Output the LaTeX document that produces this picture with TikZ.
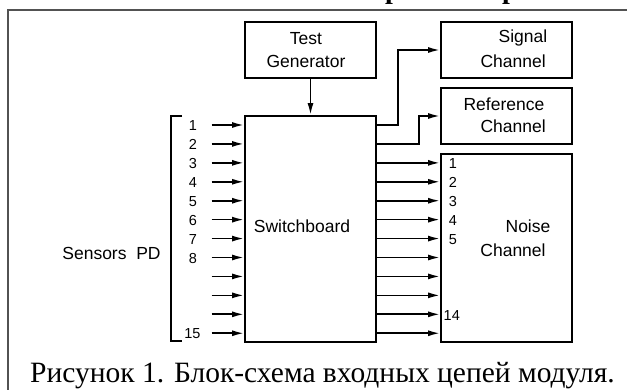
\documentclass[tikz,border=0pt]{standalone}
\usepackage{fontspec}
\setmainfont{Liberation Serif}
\newfontfamily\arialf{Liberation Sans}
\usetikzlibrary{arrows.meta,calc}
\begin{document}
\begin{tikzpicture}[x=1pt,y=-1pt,
 box/.style={draw,line width=1.9pt,minimum width=131pt,inner sep=0},
 lbl/.style={font=\arialf\fontsize{17.5}{20}\selectfont,inner sep=0},
 num/.style={font=\arialf\fontsize{14.5}{16}\selectfont,inner sep=0},
 arr/.style={line width=1.7pt,-{Latex[length=12pt,width=6pt]}},
 framec/.style={draw=black!68,line width=2pt}]
\useasboundingbox (0,0) rectangle (627,390);
\clip (0,0) rectangle (627,390);
% frame
\draw[framec] (630,10) -- (8,10) -- (8,395);
% clipped title fragments
\begin{scope}
\clip (0,0) rectangle (627,8.5);
\node[anchor=base west,font=\bfseries\fontsize{28}{30}\selectfont,inner sep=0] (tf1) at (385,-1) {р};
\node[anchor=base west,font=\bfseries\fontsize{28}{30}\selectfont,inner sep=0] (tf2) at (502,-1) {р};
\end{scope}
% boxes
\node[box,minimum height=56pt] (tg) at (310.5,50) {};
\node[box,minimum height=56pt] (sig) at (506.5,50) {};
\node[box,minimum height=56pt] (ref) at (506.5,116) {};
\node[box,minimum height=226pt] (sw) at (310.5,229) {};
\node[box,minimum height=188pt] (nc) at (506.5,248) {};
% texts
\node[lbl] (tgt1) at (306,38.3) {Test};
\node[lbl] (tgt2) at (306,61.7) {Generator};
\node[lbl,anchor=east] (sgt1) at (547.5,38.3) {Signal};
\node[lbl,anchor=east] (sgt2) at (546,61.7) {Channel};
\node[lbl,anchor=east] (rft1) at (544.5,104) {Reference};
\node[lbl,anchor=east] (rft2) at (546,126.7) {Channel};
\node[lbl] (swt) at (302,226.7) {Switchboard};
\node[lbl] (nct1) at (528,226.7) {Noise};
\node[lbl] (nct2) at (513,250) {Channel};
\node[lbl] (spd) at (111.5,253.3) {Sensors~~PD};
% bracket
\draw[line width=1.9pt] (182,116) -- (170.7,116) -- (170.7,341) -- (182,341);
% inputs
\foreach \i in {0,...,11} {
  \coordinate (in\i) at (211.7,{125+18.93*\i});
  \draw[arr] (in\i) -- (in\i -| sw.west);
}
\foreach \i/\t in {0/1,1/2,2/3,3/4,4/5,5/6,6/7,7/8}
  \node[num] (il\t) at (193,{126+18.93*\i}) {\t};
\node[num] (il15) at (192.5,333.8) {15};
% test generator arrow
\draw[arr] (tg.south) -- (sw.north);
% outputs to signal and reference
\draw[arr] (sw.east |- in0) -- ++(21,0) |- (sig.west);
\draw[arr] (sw.east |- in1) -- ++(42,0) |- (ref.west);
% outputs to noise channel
\foreach \i in {2,...,11}
  \draw[arr] (sw.east |- in\i) -- (nc.west |- in\i);
\foreach \i/\t in {2/1,3/2,4/3,5/4,6/5}
  \node[num] (nl\t) at (453,{126+18.93*\i}) {\t};
\node[num,anchor=west] (nl14) at (443.5,315.3) {14};
% caption
\node[anchor=base west,inner sep=0,font=\fontsize{29.5}{31}\selectfont] (cap) at (30,382) {Рисунок 1. Блок-схема входных цепей модуля.};
\end{tikzpicture}
\end{document}
